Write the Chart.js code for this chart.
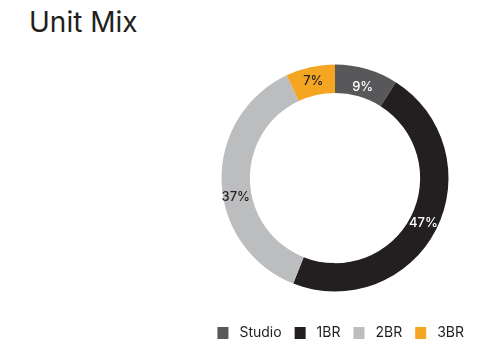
<!DOCTYPE html>
<html>
<head>
<meta charset="utf-8">
<script src="https://cdn.jsdelivr.net/npm/chart.js@4.4.1/dist/chart.umd.min.js"></script>
<style>
  html, body { margin: 0; padding: 0; background: #fff; }
  #wrap { position: relative; width: 490px; height: 346px; }
  #title { position: absolute; left: 29px; top: 5px; font: 400 28px Inter, "Noto Sans", sans-serif; color: #231f20; }
  canvas { position: absolute; left: 0; top: 0; }
</style>
</head>
<body>
<div id="wrap">
  <div id="title">Unit Mix</div>
  <canvas id="c" width="490" height="346"></canvas>
</div>
<script>
// Unit mix share, percent of total units
const unitTypes = ['Studio', '1BR', '2BR', '3BR'];
const unitShare = [9, 47, 37, 7];
const sliceColors = ['#58585a', '#231f20', '#bcbdbf', '#f4a623'];
const labelColors = ['#ffffff', '#ffffff', '#231f20', '#231f20'];

// Legend swatch: 11x12 square with a transparent lead-in so items breathe
function swatch(color) {
  const c = document.createElement('canvas');
  c.width = 22; c.height = 12;
  const g = c.getContext('2d');
  g.fillStyle = color;
  g.fillRect(7, 0, 11, 12);
  return c;
}

// Writes each slice's percentage on the ring
const sliceLabels = {
  id: 'sliceLabels',
  afterDatasetsDraw(chart, args, opts) {
    const { ctx } = chart;
    const meta = chart.getDatasetMeta(0);
    ctx.save();
    ctx.font = '500 13px Inter, "Noto Sans", sans-serif';
    ctx.textAlign = 'center';
    ctx.textBaseline = 'middle';
    meta.data.forEach((arc, i) => {
      const p = arc.tooltipPosition();
      const dy = (opts.shiftY && opts.shiftY[i]) || 0;
      ctx.fillStyle = labelColors[i];
      ctx.fillText(unitShare[i] + '%', p.x, p.y + dy);
    });
    ctx.restore();
  }
};

new Chart(document.getElementById('c'), {
  type: 'doughnut',
  data: {
    labels: unitTypes,
    datasets: [{
      data: unitShare,
      backgroundColor: sliceColors,
      borderWidth: 0,
      hoverOffset: 0
    }]
  },
  options: {
    responsive: false,
    animation: false,
    radius: 113.5,
    cutout: '75%',
    layout: { padding: { left: 200, right: 20, top: 36, bottom: -4 } },
    plugins: {
      tooltip: { enabled: false },
      sliceLabels: { shiftY: [4, 0, 16, 0] },
      legend: {
        position: 'bottom',
        align: 'end',
        labels: {
          usePointStyle: true,
          pointStyleWidth: 22,
          boxHeight: 12,
          padding: 6,
          color: '#231f20',
          font: { family: 'Inter, "Noto Sans", sans-serif', size: 14 },
          generateLabels(chart) {
            return unitTypes.map((t, i) => ({
              text: t,
              fillStyle: sliceColors[i],
              strokeStyle: sliceColors[i],
              lineWidth: 0,
              pointStyle: swatch(sliceColors[i]),
              fontColor: '#231f20',
              hidden: false,
              index: i
            }));
          }
        }
      }
    }
  },
  plugins: [sliceLabels]
});
</script>
</body>
</html>
